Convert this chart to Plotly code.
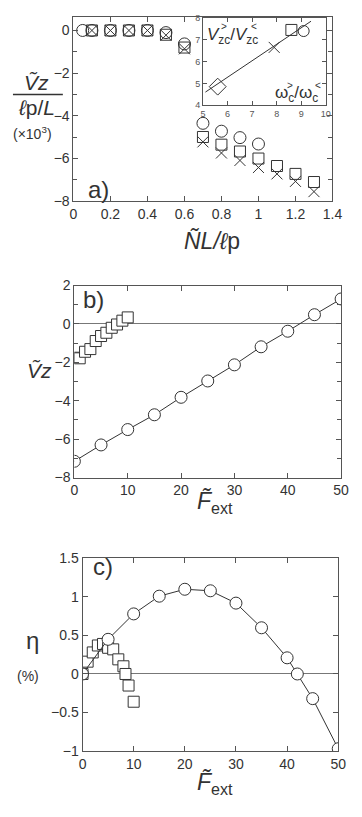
import plotly.graph_objects as go

# panel a: scaled velocity vs N L / l_p
a_circ_x = [0.05, 0.1, 0.2, 0.3, 0.4, 0.5, 0.6, 0.7, 0.8, 0.9, 1.0]
a_circ_y = [0, 0, 0, 0, 0, -0.1, -0.63, -4.35, -4.72, -5.02, -5.32]
a_sq_x = [0.1, 0.2, 0.3, 0.4, 0.5, 0.6, 0.7, 0.8, 0.9, 1.0, 1.1, 1.2, 1.3]
a_sq_y = [0, 0, 0, 0, -0.2, -0.8, -4.99, -5.35, -5.67, -6.0, -6.35, -6.72, -7.1]
a_x_x = [0.1, 0.2, 0.3, 0.4, 0.5, 0.6, 0.7, 0.8, 0.9, 1.0, 1.1, 1.2, 1.3]
a_x_y = [0, 0, 0, 0, -0.22, -0.86, -5.22, -5.74, -6.09, -6.42, -6.72, -7.07, -7.55]

# inset: V ratio vs omega ratio
in_fit_x = [5.1, 9.4]
in_fit_y = [4.6, 7.85]
in_diam = ([5.6], [4.85])
in_cross = ([7.9], [6.65])
in_sq = ([8.6], [7.45])
in_circ = ([9.1], [7.4])

# panel b: V vs F_ext
b_circ_x = [0, 5, 10, 15, 20, 25, 30, 35, 40, 45, 50]
b_circ_y = [-7.15, -6.3, -5.5, -4.73, -3.82, -2.97, -2.13, -1.19, -0.38, 0.48, 1.3]
b_sq_x = [0, 1, 2, 3, 4, 5, 6, 7, 8, 9, 10]
b_sq_y = [-1.76, -1.79, -1.45, -1.31, -0.89, -0.63, -0.46, -0.2, -0.03, 0.17, 0.34]

# panel c: efficiency vs F_ext
c_circ_x = [0, 5, 10, 15, 20, 25, 30, 35, 40, 42, 45, 50]
c_circ_y = [0, 0.45, 0.78, 1.01, 1.1, 1.08, 0.92, 0.6, 0.21, 0, -0.32, -0.97]
c_sq_x = [0, 1, 2, 3, 4, 5, 6, 7, 8, 8.4, 9, 10]
c_sq_y = [0, 0.16, 0.28, 0.37, 0.39, 0.34, 0.32, 0.19, 0.1, 0.0, -0.15, -0.36]

# the page keeps the browser's 8px body margin on every side,
# so the figure is shrunk to fit inside the window without zoom-out
OFF = 8
W, H = 362 - 2 * OFF, 817 - 2 * OFF
INK = "#333333"
FONT = "Liberation Sans, Arial, sans-serif"


def px(x):
    # screen pixel -> paper fraction
    return (x - OFF) / W


def py(y):
    return 1 - (y - OFF) / H


fig = go.Figure()

mk = lambda sym, size=11, fill=None: dict(
    symbol=sym, size=size, color=fill if fill else INK,
    line=dict(color=INK, width=1))

# panel a
fig.add_trace(go.Scatter(x=a_circ_x, y=a_circ_y, mode="markers",
                         marker=mk("circle-open", 12), xaxis="x", yaxis="y"))
fig.add_trace(go.Scatter(x=a_sq_x, y=a_sq_y, mode="markers",
                         marker=mk("square-open", 11), xaxis="x", yaxis="y"))
fig.add_trace(go.Scatter(x=a_x_x, y=a_x_y, mode="markers",
                         marker=mk("x-thin-open", 11), xaxis="x", yaxis="y"))

# inset
fig.add_trace(go.Scatter(x=in_fit_x, y=in_fit_y, mode="lines",
                         line=dict(color=INK, width=1), xaxis="x4", yaxis="y4"))
for (xs, ys), sym, sz in [(in_diam, "diamond-open", 13), (in_cross, "x-thin-open", 11),
                          (in_sq, "square-open", 11), (in_circ, "circle-open", 11)]:
    fig.add_trace(go.Scatter(x=xs, y=ys, mode="markers", marker=mk(sym, sz),
                             xaxis="x4", yaxis="y4"))

# panel b
fig.add_trace(go.Scatter(x=b_circ_x, y=b_circ_y, mode="lines+markers",
                         line=dict(color=INK, width=1),
                         marker=mk("circle", 12, "white"), xaxis="x2", yaxis="y2"))
fig.add_trace(go.Scatter(x=b_sq_x, y=b_sq_y, mode="markers",
                         marker=mk("square", 11, "white"), xaxis="x2", yaxis="y2"))

# panel c
fig.add_trace(go.Scatter(x=c_sq_x, y=c_sq_y, mode="markers",
                         marker=mk("square", 11, "white"), xaxis="x3", yaxis="y3"))
fig.add_trace(go.Scatter(x=c_circ_x, y=c_circ_y, mode="lines+markers",
                         line=dict(color=INK, width=1),
                         marker=mk("circle", 12, "white"), xaxis="x3", yaxis="y3"))

ax = dict(showline=True, linecolor="#555555", linewidth=1, mirror="ticks",
          ticks="inside", ticklen=5, tickcolor="#555555", showgrid=False,
          zeroline=False, tickfont=dict(size=14, color=INK, family=FONT))
minor = dict(dtick=1, ticks="inside", ticklen=4, tickcolor="#555555")
small = dict(size=9, color="#555555", family=FONT)

fig.update_layout(
    width=W, height=H, showlegend=False,
    margin=dict(l=0, r=0, t=0, b=0),
    paper_bgcolor="white", plot_bgcolor="white",
    font=dict(family=FONT, color=INK),
    xaxis=dict(ax, domain=[px(72), px(342)], range=[0, 1.4], dtick=0.2, anchor="y"),
    yaxis=dict(ax, domain=[py(197), py(8.6)], range=[-8, 0.65], tick0=0, dtick=2,
               anchor="x", minor=minor),
    xaxis2=dict(ax, domain=[px(73), px(351)], range=[0, 50], dtick=10, anchor="y2"),
    yaxis2=dict(ax, domain=[py(479), py(283)], range=[-8, 2], dtick=2, anchor="x2",
                zeroline=True, zerolinecolor="#777777", zerolinewidth=1, minor=minor),
    xaxis3=dict(ax, domain=[px(81.5), px(348)], range=[0, 50], dtick=10, anchor="y3"),
    yaxis3=dict(ax, domain=[py(758), py(561.5)], range=[-1, 1.5], dtick=0.5, anchor="x3",
                zeroline=True, zerolinecolor="#777777", zerolinewidth=1),
    xaxis4=dict(ax, domain=[px(207), px(335)], range=[5, 10], dtick=1, anchor="y4",
                ticklen=4, tickfont=small),
    yaxis4=dict(ax, domain=[py(99), py(10)], range=[4, 8], dtick=1, anchor="x4",
                ticklen=4, tickfont=small),
)


def note(text, x, y, size, **kw):
    fig.add_annotation(text=text, x=px(x), y=py(y), xref="paper", yref="paper",
                       xanchor="center", yanchor="middle", showarrow=False,
                       font=dict(size=size, color=INK, family=FONT), **kw)


# panel labels
note("a)", 98, 185, 24)
note("b)", 93, 297, 24)
note("c)", 103, 570, 24)

# panel a axis titles
note("<i>Ṽz</i>", 34, 76, 21)
fig.add_shape(type="line", xref="paper", yref="paper", x0=px(9), x1=px(61),
              y0=py(88), y1=py(88), line=dict(color=INK, width=1.5))
note("<i>ℓ</i>p/<i>L</i>", 34, 101, 21)
note("(×10<sup>3</sup>)", 29, 127, 14)
note("<i>ÑL/ℓ</i>p", 216, 238, 23)

# inset titles: stacked super/subscripts done by hand
note("<i>V</i><sub>zc</sub>/<i>V</i><sub>zc</sub>", 238, 28, 17)
note(">", 229, 19, 10)
note("<", 260, 19, 10)
note("ω<sub>c</sub>/ω<sub>c</sub>", 305, 88, 17)
note(">", 298, 79, 10)
note("<", 327, 79, 10)

# panel b axis titles
note("<i>Ṽz</i>", 37, 370, 21)
note("<i>F̃</i><sub>ext</sub>", 220, 504, 23)

# panel c axis titles
note("η", 29, 645, 24)
note("(%)", 25, 681, 14)
note("<i>F̃</i><sub>ext</sub>", 220, 791, 23)

fig.write_html("out.html", config={"displayModeBar": False})
